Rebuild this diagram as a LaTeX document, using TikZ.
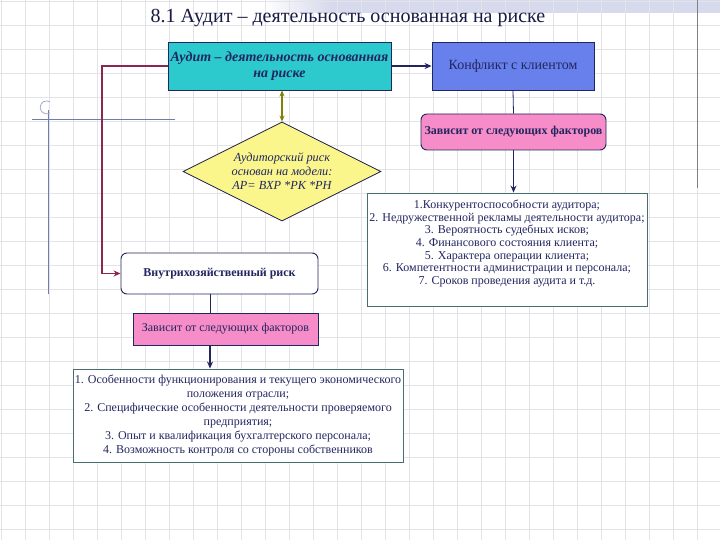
\documentclass[tikz,border=0pt]{standalone}
\usepackage{fontspec}
\setmainfont{Liberation Serif}
\usetikzlibrary{arrows.meta,shapes.geometric}
\definecolor{navy}{RGB}{34,38,96}
\definecolor{gridc}{RGB}{228,228,232}
\definecolor{cyanbox}{RGB}{44,202,204}
\definecolor{bluebox}{RGB}{104,128,236}
\definecolor{pinkbox}{RGB}{246,140,200}
\definecolor{yelbox}{RGB}{250,246,140}
\definecolor{maroon}{RGB}{140,38,80}
\definecolor{olive}{RGB}{130,128,10}
\definecolor{listborder}{RGB}{72,110,110}
\definecolor{decor}{RGB}{110,125,175}
\definecolor{band}{RGB}{214,218,236}
\tikzset{
  box/.style={draw=navy, line width=0.9pt, text=navy, align=center, inner sep=2pt},
  listbox/.style={draw=listborder, line width=0.9pt, fill=white, text=navy, align=center, inner sep=2pt},
  conn/.style={draw=navy, line width=1.6pt, -{Stealth[length=7pt,width=6pt]}},
  plain/.style={draw=navy, line width=0.8pt},
}
\begin{document}
\begin{tikzpicture}[x=1pt,y=-1pt]
\useasboundingbox (0,0) rectangle (720,540);
\fill[white] (0,0) rectangle (720,540);
% top-right band
\shade[left color=white, right color=band] (264,0) rectangle (330,13);
\fill[band] (330,0) rectangle (720,13);
% grid
\foreach \gx in {1,25,...,720} \draw[gridc, line width=0.6pt] (\gx,0) -- (\gx,540);
\foreach \gy in {1,25,...,540} \draw[gridc, line width=0.6pt] (0,\gy) -- (720,\gy);
% decorative lines
\draw[gray, line width=0.8pt] (697,0) -- (697,188);
\draw[decor, line width=0.7pt] (32,119) -- (175,119);
\draw[decor, line width=0.7pt] (48,110) -- (48,294);
\draw[decor!70, line width=0.7pt] (50,113) arc[start angle=60, end angle=300, radius=6.5];
% title
\node[text=navy!70!black, font=\fontsize{20}{23}\selectfont] (title) at (348,18) {8.1 Аудит – деятельность основанная на риске};
% boxes
\node[box, fill=cyanbox, minimum width=223pt, minimum height=48pt, inner sep=1pt, font=\bfseries\itshape\fontsize{14}{16}\selectfont] (A) at (279.5,66) {Аудит – деятельность основанная\\на риске};
\node[box, fill=bluebox, minimum width=162pt, minimum height=48pt, font=\fontsize{14}{16}\selectfont] (B) at (513,66) {Конфликт с клиентом};
\node[box, fill=pinkbox, rounded corners=6pt, minimum width=185pt, minimum height=36pt, font=\bfseries\fontsize{12}{14}\selectfont] (P1) at (513.5,132) {Зависит от следующих факторов};
\node[listbox, minimum width=280pt, minimum height=113pt] (L1) at (507,249.5) {};
\node[text=navy, align=center, inner sep=0pt, yshift=6pt, font=\fontsize{12}{12.6}\selectfont] (L1t) at (L1.center) {1.Конкурентоспособности аудитора;\\2. Недружественной рекламы деятельности аудитора;\\3. Вероятность судебных исков;\\4. Финансового состояния клиента;\\5. Характера операции клиента;\\6. Компетентности администрации и персонала;\\7. Сроков проведения аудита и т.д.};
\node[diamond, aspect=2, draw=navy!70!black, line width=0.8pt, fill=yelbox, text=navy, align=center, minimum width=198pt, minimum height=99pt, inner sep=0pt, font=\itshape\fontsize{12.3}{14}\selectfont] (D) at (282,171.5) {Аудиторский риск\\основан на модели:\\АР= ВХР *РК *РН};
\node[box, fill=white, rounded corners=6pt, minimum width=197pt, minimum height=41pt, font=\bfseries\fontsize{12}{14}\selectfont] (V) at (219.5,273.5) {Внутрихозяйственный риск};
\node[box, fill=pinkbox, minimum width=185pt, minimum height=32pt, font=\fontsize{12}{14}\selectfont] (P2) at (225.5,329) {Зависит от следующих факторов};
\node[listbox, minimum width=330pt, minimum height=93pt, inner sep=1pt, font=\fontsize{12}{14}\selectfont] (L2) at (238,415.5) {1. Особенности функционирования и текущего экономического\\положения отрасли;\\2. Специфические особенности деятельности проверяемого\\предприятия;\\3. Опыт и квалификация бухгалтерского персонала;\\4. Возможность контроля со стороны собственников};
% connectors
\draw[conn] (A.east) -- (B.west);
\draw[plain] (B.south) -- (P1.north);
\draw[conn] (P1.south) -- (P1.south |- L1.north);
\draw[draw=olive, line width=1.6pt, {Stealth[length=6pt,width=5pt]}-{Stealth[length=6pt,width=5pt]}] (D.north |- A.south) -- (D.north);
\coordinate (m1) at (102,66);
\draw[draw=maroon, line width=1.6pt, -{Stealth[length=7pt,width=6pt]}] (A.west) -- (m1) |- (V.west);
\coordinate (v1) at (210,294);
\draw[plain] (V.south -| v1) -- (P2.north -| v1);
\draw[conn] (P2.south -| v1) -- (L2.north -| v1);
\end{tikzpicture}
\end{document}
